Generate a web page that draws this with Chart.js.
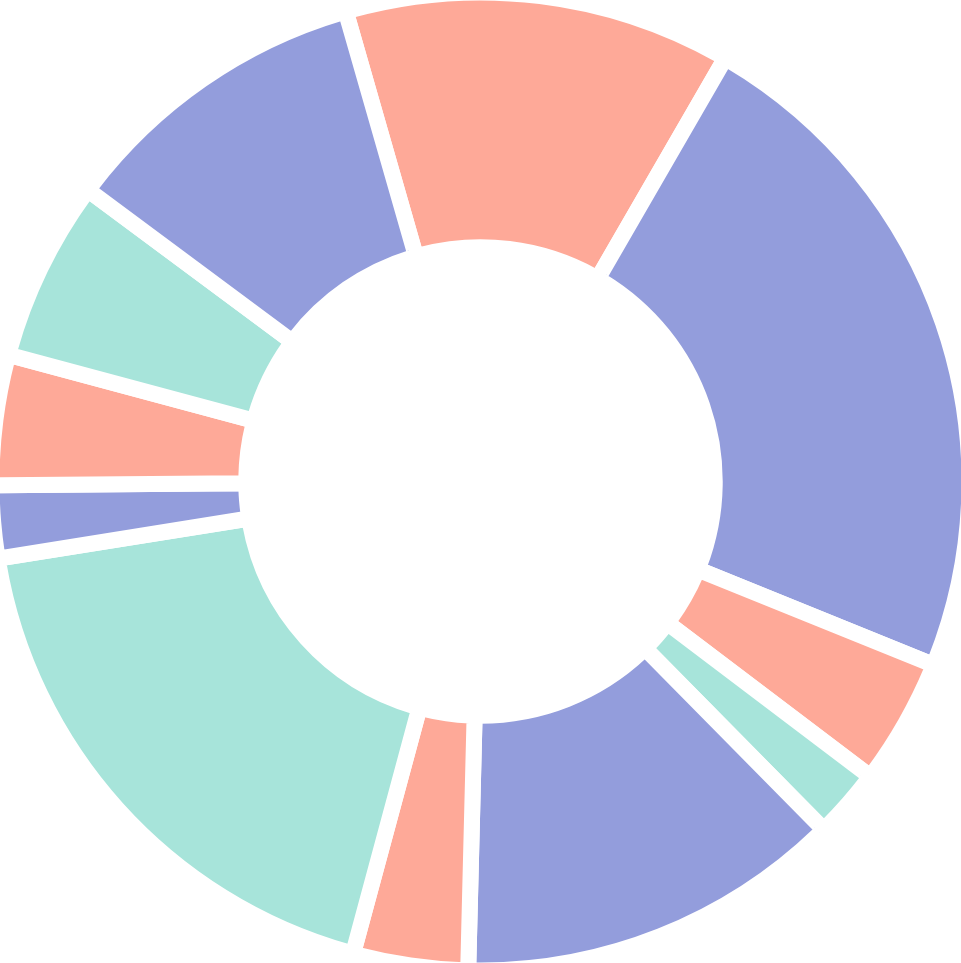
<!DOCTYPE html>
<html>
<head>
<meta charset="utf-8">
<script src="https://cdn.jsdelivr.net/npm/chart.js@4"></script>
<style>
  html, body { margin: 0; padding: 0; background: #ffffff; }
  #wrap { width: 961px; height: 963px; }
</style>
</head>
<body>
<div id="wrap"><canvas id="chart" width="961" height="963"></canvas></div>
<script>
// slices clockwise, starting just left of the top
const labels = ['A', 'B', 'C', 'D', 'E', 'F', 'G', 'H', 'I', 'J', 'K'];
const values = [12.8, 22.8, 4.2, 2.3, 12.8, 3.8, 18.3, 2.4, 4.3, 6.0, 10.4];
const purple = '#939ddc';
const salmon = '#fea998';
const teal = '#a7e4da';
const colors = [salmon, purple, salmon, teal, purple, salmon, teal, purple, salmon, teal, purple];

const ctx = document.getElementById('chart').getContext('2d');

// wide white borders make the gaps; radius pushed out so the visible ring still fills the canvas
new Chart(ctx, {
  type: 'doughnut',
  data: {
    labels: labels,
    datasets: [{
      data: values,
      backgroundColor: colors,
      borderColor: '#ffffff',
      borderWidth: 16,
      borderRadius: 5,
      hoverOffset: 0
    }]
  },
  options: {
    responsive: false,
    animation: false,
    rotation: -16,
    radius: 489,
    cutout: '47.9%',
    layout: { padding: 0 },
    plugins: {
      legend: { display: false },
      tooltip: { enabled: false }
    }
  }
});
</script>
</body>
</html>
